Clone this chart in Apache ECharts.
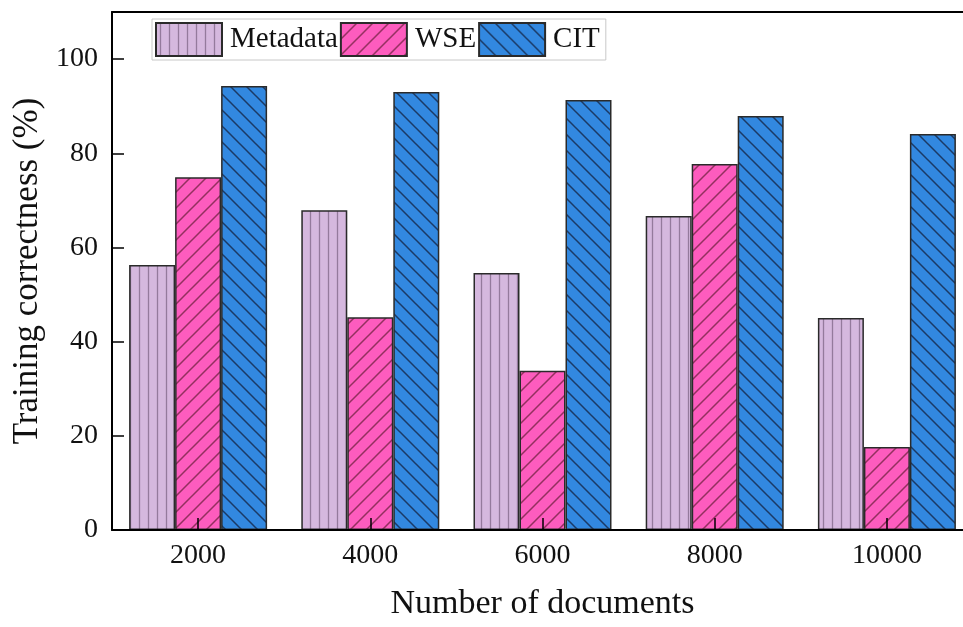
<!DOCTYPE html>
<html>
<head>
<meta charset="utf-8">
<script src="https://cdn.jsdelivr.net/npm/echarts@6/dist/echarts.min.js"></script>
<style>html,body{margin:0;padding:0;background:#fff;overflow:hidden}#c{width:973px;height:627px}</style>
</head>
<body>
<div id="c"></div>
<script>
const categories = ['2000', '4000', '6000', '8000', '10000'];
const metadata = [56.3, 67.9, 54.6, 66.7, 45.0];
const wse = [74.9, 45.2, 33.8, 77.7, 17.6];
const cit = [94.3, 93.0, 91.3, 87.9, 84.1];
const yTicks = [0, 20, 40, 60, 80, 100];
const seriesNames = ['Metadata', 'WSE', 'CIT'];

const FONT = "'Liberation Serif', 'Times New Roman', serif";

function vPattern(base, line, w) {
  const c = document.createElement('canvas');
  c.width = w; c.height = 10;
  const g = c.getContext('2d');
  g.fillStyle = base; g.fillRect(0, 0, w, 10);
  g.strokeStyle = line; g.lineWidth = 1.3;
  g.beginPath(); g.moveTo(w / 2, 0); g.lineTo(w / 2, 10); g.stroke();
  return c;
}
function dPattern(base, line, s, dir) {
  const c = document.createElement('canvas');
  c.width = s; c.height = s;
  const g = c.getContext('2d');
  g.fillStyle = base; g.fillRect(0, 0, s, s);
  g.strokeStyle = line; g.lineWidth = 1.5;
  g.beginPath();
  if (dir > 0) {
    g.moveTo(0, s); g.lineTo(s, 0);
    g.moveTo(-2, 2); g.lineTo(2, -2);
    g.moveTo(s - 2, s + 2); g.lineTo(s + 2, s - 2);
  } else {
    g.moveTo(0, 0); g.lineTo(s, s);
    g.moveTo(-2, s - 2); g.lineTo(2, s + 2);
    g.moveTo(s - 2, -2); g.lineTo(s + 2, 2);
  }
  g.stroke();
  return c;
}

const pats = [
  { image: vPattern('#d5b8de', '#947a9c', 9), repeat: 'repeat' },
  { image: dPattern('#fd5cbe', '#93305f', 16, 1), repeat: 'repeat' },
  { image: dPattern('#3288e0', '#1b3a66', 16, -1), repeat: 'repeat' }
];
const values = [metadata, wse, cit];

const chart = echarts.init(document.getElementById('c'), null, { renderer: 'canvas' });
chart.setOption({
  animation: false,
  backgroundColor: '#fff',
  textStyle: { fontFamily: FONT },
  grid: { left: 112, top: 12, right: 0, bottom: 97, containLabel: false },
  legend: {
    left: 152, top: 19,
    padding: [3, 6, 3, 3],
    itemGap: 2,
    itemWidth: 66, itemHeight: 33,
    icon: 'rect',
    borderColor: '#c8c8c8', borderWidth: 1,
    textStyle: { fontFamily: FONT, fontSize: 29, color: '#111', padding: [0, 0, 0, 3] },
    data: seriesNames
  },
  xAxis: [{
    type: 'category',
    data: categories,
    z: 5,
    axisLine: { lineStyle: { color: '#000', width: 2 } },
    axisTick: { show: true, inside: true, length: 12, alignWithLabel: true, lineStyle: { color: '#000', width: 1.5 } },
    axisLabel: { fontFamily: FONT, fontSize: 28, color: '#111', margin: 12 },
    name: 'Number of documents',
    nameLocation: 'middle',
    nameGap: 57,
    nameTextStyle: { fontFamily: FONT, fontSize: 34, color: '#111' }
  }, {
    type: 'category',
    data: categories,
    position: 'top',
    z: 5,
    axisLine: { show: true, lineStyle: { color: '#000', width: 2 } },
    axisTick: { show: false },
    axisLabel: { show: false }
  }],
  yAxis: {
    type: 'value',
    min: 0, max: 110, interval: 20,
    z: 5,
    splitLine: { show: false },
    axisLine: { show: true, lineStyle: { color: '#000', width: 2 } },
    axisTick: { show: true, inside: true, length: 12, customValues: yTicks, lineStyle: { color: '#000', width: 1.5 } },
    axisLabel: { fontFamily: FONT, fontSize: 28, color: '#111', margin: 14, customValues: yTicks },
    name: 'Training correctness (%)',
    nameLocation: 'middle',
    nameGap: 64,
    nameTextStyle: { fontFamily: FONT, fontSize: 35, color: '#111' }
  },
  series: seriesNames.map((n, i) => ({
    name: n,
    type: 'bar',
    data: values[i],
    barWidth: 46,
    barGap: '0%',
    itemStyle: { color: pats[i], borderColor: '#2a2a2a', borderWidth: 1.5 }
  }))
});
</script>
</body>
</html>
